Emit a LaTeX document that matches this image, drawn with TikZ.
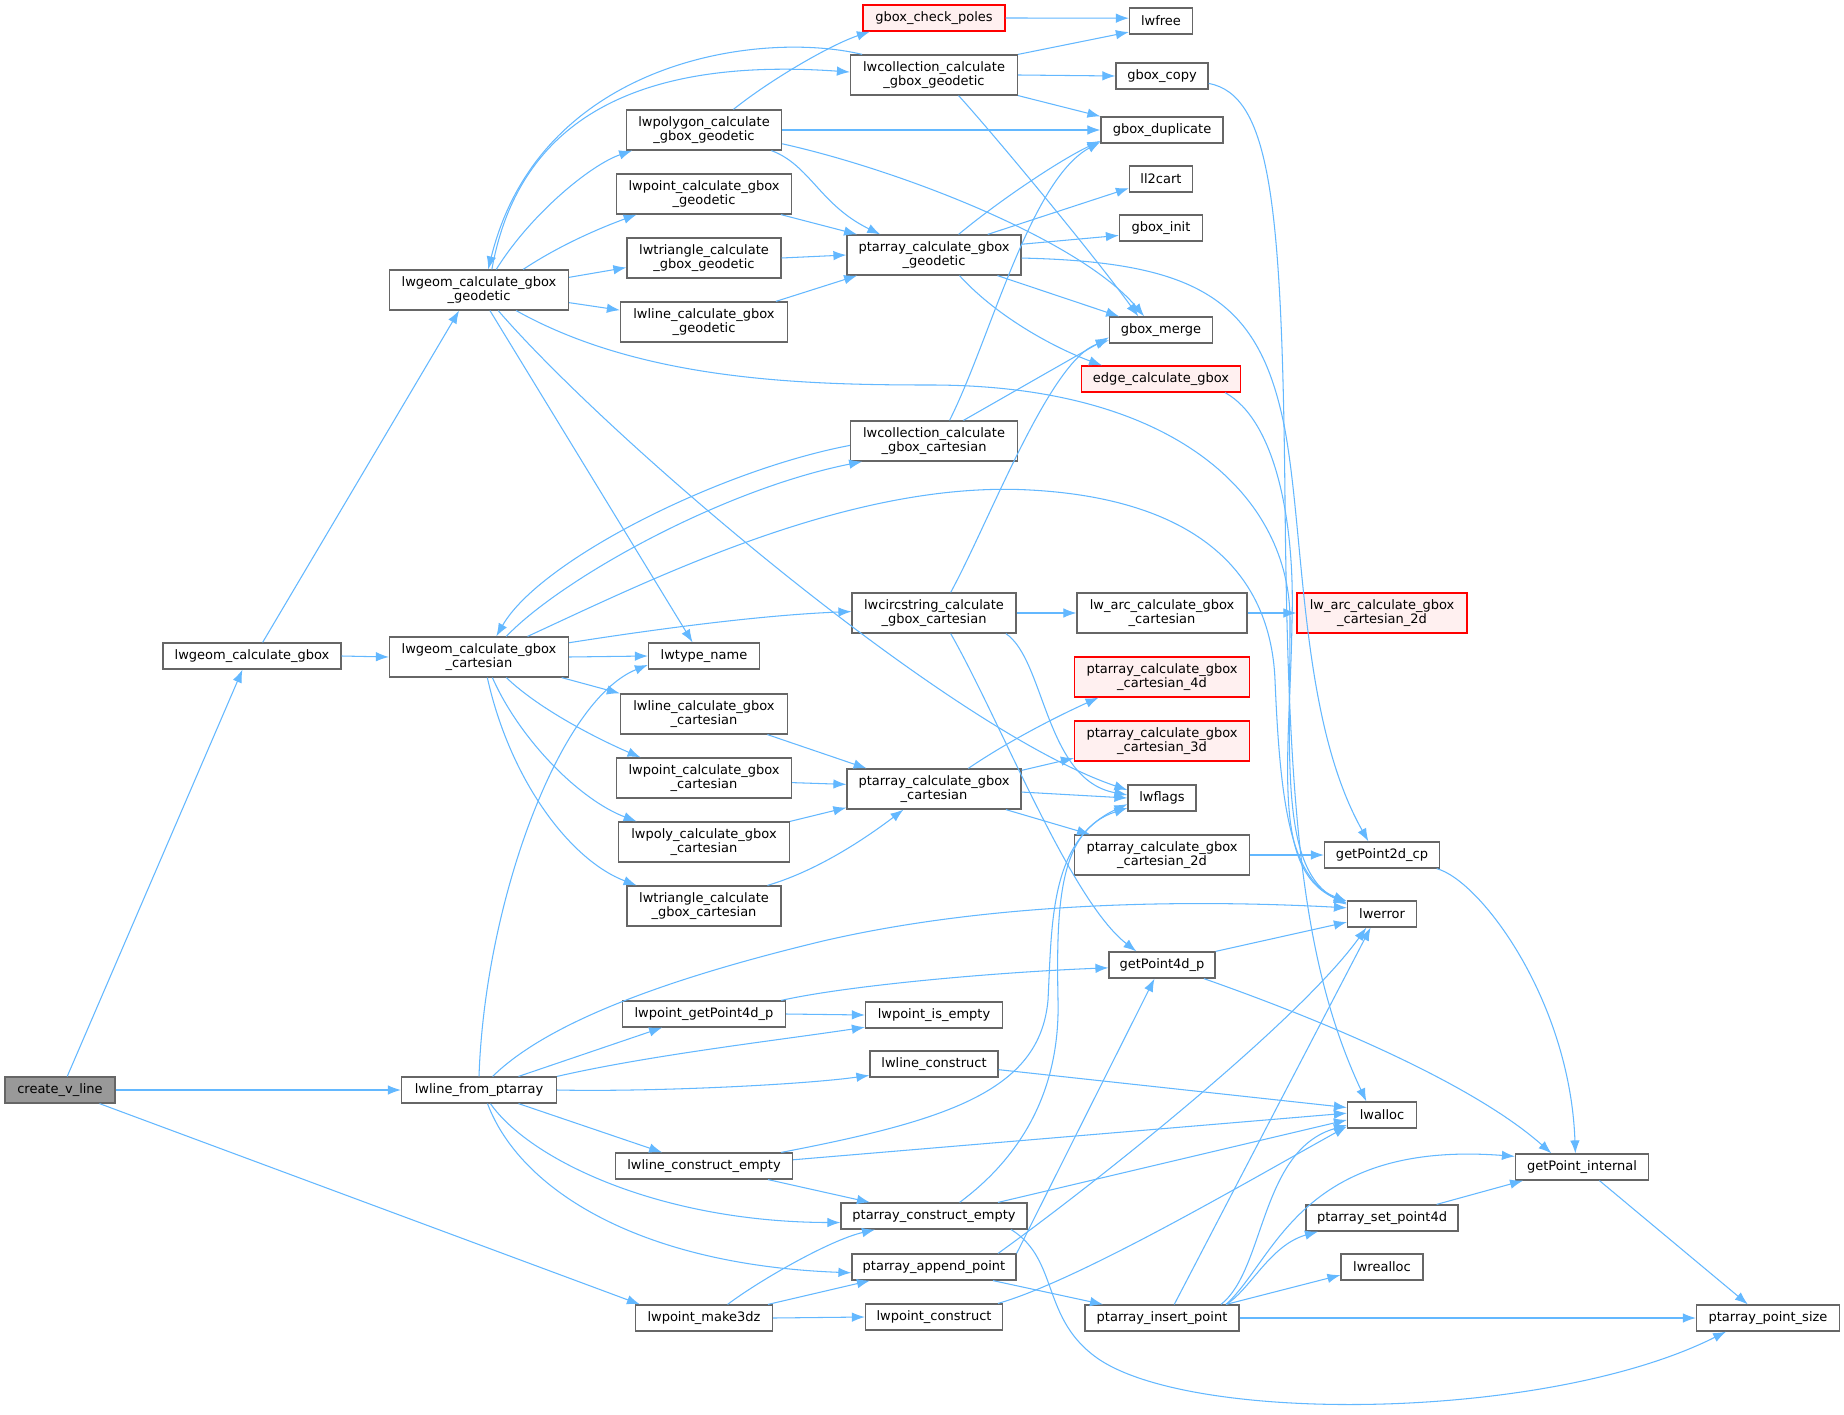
\documentclass[tikz,border=0pt]{standalone}
\usepackage{fontspec}
\setmainfont{DejaVu Sans}
\usepackage{xcolor}
\usetikzlibrary{arrows.meta}
\definecolor{edgeblue}{HTML}{63B8FF}
\definecolor{boxgray}{HTML}{666666}
\definecolor{rootfill}{HTML}{999999}
\definecolor{truncred}{HTML}{FF0000}
\definecolor{truncfill}{HTML}{FFF0F0}

\begin{document}
\begin{tikzpicture}[
    x=0.02cm, y=-0.02cm,
    fn/.style={
      draw=boxgray,
      fill=white,
      line width=0.7pt,
      inner sep=0pt,
      align=center,
      minimum height=0.52cm,
      font=\fontsize{7.4}{8.3}\selectfont
    },
    fn2/.style={fn, minimum height=0.8cm},
    bw/.style={minimum width=#1*0.02cm},
    caller/.style={fill=rootfill},
    trunc/.style={draw=truncred, fill=truncfill},
    call/.style={-{Latex[length=0.26cm,width=0.19cm]}, draw=edgeblue, line width=0.6pt}
  ]
  \path[use as bounding box, fill=white] (0,0) rectangle (1844,1415);

  \node[fn, caller, bw=110] (vline) at (60,1090) {create\_v\_line};
  \node[fn, bw=178] (gbox) at (252,656) {lwgeom\_calculate\_gbox};
  \node[fn2, bw=179] (geo) at (479,290) {lwgeom\_calculate\_gbox\\\_geodetic};
  \node[fn2, bw=179] (cart) at (479,657) {lwgeom\_calculate\_gbox\\\_cartesian};
  \node[fn, bw=155] (fromPta) at (479,1090) {lwline\_from\_ptarray};
  \node[fn, bw=137] (make3dz) at (704,1318) {lwpoint\_make3dz};

  \node[fn2, bw=155] (polyGeo) at (704,130) {lwpolygon\_calculate\\\_gbox\_geodetic};
  \node[fn2, bw=175] (pointGeo) at (704,194) {lwpoint\_calculate\_gbox\\\_geodetic};
  \node[fn2, bw=154] (triGeo) at (704,258) {lwtriangle\_calculate\\\_gbox\_geodetic};
  \node[fn2, bw=167] (lineGeo) at (704,322) {lwline\_calculate\_gbox\\\_geodetic};
  \node[fn, bw=111] (typeName) at (704,656) {lwtype\_name};
  \node[fn2, bw=167] (lineCart) at (704,714) {lwline\_calculate\_gbox\\\_cartesian};
  \node[fn2, bw=175] (pointCart) at (704,778) {lwpoint\_calculate\_gbox\\\_cartesian};
  \node[fn2, bw=171] (polyCart) at (704,842) {lwpoly\_calculate\_gbox\\\_cartesian};
  \node[fn2, bw=154] (triCart) at (704,906) {lwtriangle\_calculate\\\_gbox\_cartesian};
  \node[fn, bw=163] (ptGet4d) at (704,1014) {lwpoint\_getPoint4d\_p};
  \node[fn, bw=177] (lineEmpty) at (704,1166) {lwline\_construct\_empty};

  \node[fn, trunc, bw=142] (poles) at (934,18) {gbox\_check\_poles};
  \node[fn2, bw=167] (collGeo) at (934,75) {lwcollection\_calculate\\\_gbox\_geodetic};
  \node[fn2, bw=174] (ptaGeo) at (934,255) {ptarray\_calculate\_gbox\\\_geodetic};
  \node[fn2, bw=167] (collCart) at (934,441) {lwcollection\_calculate\\\_gbox\_cartesian};
  \node[fn2, bw=164] (circCart) at (934,613) {lwcircstring\_calculate\\\_gbox\_cartesian};
  \node[fn2, bw=174] (ptaCart) at (934,789) {ptarray\_calculate\_gbox\\\_cartesian};
  \node[fn, bw=137] (ptEmpty) at (934,1015) {lwpoint\_is\_empty};
  \node[fn, bw=128] (lineCons) at (934,1064) {lwline\_construct};
  \node[fn, bw=186] (ptaEmpty) at (934,1216) {ptarray\_construct\_empty};
  \node[fn, bw=164] (append) at (934,1267) {ptarray\_append\_point};
  \node[fn, bw=137] (ptCons) at (934,1317) {lwpoint\_construct};

  \node[fn, bw=63] (lwfree) at (1161,21) {lwfree};
  \node[fn, bw=92] (copy) at (1162,76) {gbox\_copy};
  \node[fn, bw=122] (dup) at (1162,130) {gbox\_duplicate};
  \node[fn, bw=63] (ll2cart) at (1161,179) {ll2cart};
  \node[fn, bw=83] (init) at (1161,228) {gbox\_init};
  \node[fn, bw=103] (merge) at (1161,330) {gbox\_merge};
  \node[fn, trunc, bw=159] (edgeBox) at (1161,379) {edge\_calculate\_gbox};
  \node[fn2, bw=170] (arcCart) at (1162,613) {lw\_arc\_calculate\_gbox\\\_cartesian};
  \node[fn2, trunc, bw=175] (cart4d) at (1162,677) {ptarray\_calculate\_gbox\\\_cartesian\_4d};
  \node[fn2, trunc, bw=175] (cart3d) at (1162,741) {ptarray\_calculate\_gbox\\\_cartesian\_3d};
  \node[fn, bw=68] (flags) at (1162,798) {lwflags};
  \node[fn2, bw=175] (cart2d) at (1162,855) {ptarray\_calculate\_gbox\\\_cartesian\_2d};
  \node[fn, bw=106] (get4d) at (1162,965) {getPoint4d\_p};
  \node[fn, bw=154] (insert) at (1162,1318) {ptarray\_insert\_point};

  \node[fn2, trunc, bw=170] (arc2d) at (1382,613) {lw\_arc\_calculate\_gbox\\\_cartesian\_2d};
  \node[fn, bw=115] (get2d) at (1382,855) {getPoint2d\_cp};
  \node[fn, bw=69] (lwerror) at (1382,914) {lwerror};
  \node[fn, bw=69] (lwalloc) at (1382,1115) {lwalloc};
  \node[fn, bw=152] (set4d) at (1382,1218) {ptarray\_set\_point4d};
  \node[fn, bw=82] (realloc) at (1382,1267) {lwrealloc};
  \node[fn, bw=133] (internal) at (1582,1167) {getPoint\_internal};
  \node[fn, bw=143] (ptSize) at (1768,1318) {ptarray\_point\_size};

  % create_v_line
  \draw[call] (vline.62) -- (gbox.235);
  \draw[call] (vline.east) -- (fromPta.west);
  \draw[call] (vline.-19) -- (make3dz.168);
  \draw[call] (gbox.52) -- (geo.226);
  \draw[call] (gbox.east) -- (cart.west);

  % geodetic branch
  \draw[call] (geo.58) .. controls (515,140) and (610,55) .. (collGeo.178);
  \draw[call] (collGeo.164) .. controls (760,30) and (540,60) .. (geo.66);
  \draw[call] (geo.50) .. controls (530,215) and (590,165) .. (polyGeo.196);
  \draw[call] (geo.25) .. controls (560,245) and (600,228) .. (pointGeo.197);
  \draw[call] (geo.8) -- (triGeo.187);
  \draw[call] (geo.-8) -- (lineGeo.172);
  \draw[call] (geo.298) -- (typeName.130);
  \draw[call] (geo.313) .. controls (610,440) and (950,730) .. (flags.167);
  \draw[call] (geo.331) .. controls (640,380) and (800,385) .. (930,385) .. controls (1180,385) and (1290,500) .. (1290,620) .. controls (1290,760) and (1280,870) .. (lwerror.165);

  \draw[call] (collGeo.north east) -- (lwfree.199);
  \draw[call] (poles.east) -- (lwfree.175);
  \draw[call] (collGeo.east) -- (copy.west);
  \draw[call] (collGeo.south east) -- (dup.north west);
  \draw[call] (collGeo.320) .. controls (990,130) and (1090,250) .. (merge.149);

  \draw[call] (polyGeo.35) .. controls (770,80) and (830,45) .. (poles.192);
  \draw[call] (polyGeo.east) -- (dup.west);
  \draw[call] (polyGeo.343) .. controls (810,165) and (820,205) .. (ptaGeo.159);
  \draw[call] (polyGeo.350) .. controls (900,170) and (1080,240) .. (merge.141);
  \draw[call] (pointGeo.345) -- (ptaGeo.165);
  \draw[call] (triGeo.east) -- (ptaGeo.west);
  \draw[call] (lineGeo.16) -- (ptaGeo.195);

  \draw[call] (ptaGeo.40) .. controls (1000,200) and (1060,160) .. (dup.190);
  \draw[call] (ptaGeo.21) -- (ll2cart.196);
  \draw[call] (ptaGeo.7) -- (init.190);
  \draw[call] (ptaGeo.342) -- (merge.162);
  \draw[call] (ptaGeo.321) .. controls (1000,320) and (1060,350) .. (edgeBox.167);
  \draw[call] (ptaGeo.-2) .. controls (1200,262) and (1260,300) .. (1285,430) .. controls (1305,540) and (1300,720) .. (get2d.135);
  \draw[call] (copy.351) .. controls (1270,95) and (1282,200) .. (1285,500) .. controls (1288,800) and (1300,960) .. (lwalloc.139);
  \draw[call] (edgeBox.348) .. controls (1275,420) and (1295,520) .. (1292,620) .. controls (1290,760) and (1270,870) .. (lwerror.163);

  % cartesian branch
  \draw[call] (collCart.183) .. controls (720,470) and (540,560) .. (cart.50);
  \draw[call] (cart.37) .. controls (560,580) and (720,490) .. (collCart.196);
  \draw[call] (cart.9) .. controls (650,630) and (760,615) .. (circCart.179);
  \draw[call] (cart.east) -- (typeName.west);
  \draw[call] (cart.346) -- (lineCart.north west);
  \draw[call] (cart.323) .. controls (540,710) and (600,740) .. (pointCart.162);
  \draw[call] (cart.303) .. controls (520,740) and (580,800) .. (polyCart.163);
  \draw[call] (cart.292) .. controls (510,780) and (570,860) .. (triCart.163);
  \draw[call] (cart.23) .. controls (650,580) and (850,480) .. (1030,490) .. controls (1180,498) and (1270,560) .. (1275,680) .. controls (1280,800) and (1290,880) .. (lwerror.160);

  \draw[call] (collCart.53) .. controls (990,340) and (1030,180) .. (dup.191);
  \draw[call] (collCart.35) -- (merge.188);
  \draw[call] (circCart.51) .. controls (990,520) and (1050,360) .. (merge.191);
  \draw[call] (circCart.east) -- (arcCart.west);
  \draw[call] (circCart.344) .. controls (1045,660) and (1045,780) .. (flags.175);
  \draw[call] (circCart.309) .. controls (1000,720) and (1070,900) .. (get4d.152);
  \draw[call] (arcCart.east) -- (arc2d.west);

  \draw[call] (lineCart.342) -- (ptaCart.163);
  \draw[call] (pointCart.-3) -- (ptaCart.177);
  \draw[call] (polyCart.north east) -- (ptaCart.192);
  \draw[call] (triCart.18) .. controls (820,870) and (870,835) .. (ptaCart.214);
  \draw[call] (ptaCart.31) .. controls (1010,740) and (1060,715) .. (cart4d.198);
  \draw[call] (ptaCart.12) -- (cart3d.191);
  \draw[call] (ptaCart.-2) -- (flags.west);
  \draw[call] (ptaCart.344) -- (cart2d.164);
  \draw[call] (cart2d.east) -- (get2d.west);
  \draw[call] (get2d.346) .. controls (1480,880) and (1570,1000) .. (internal.116);

  % lwline_from_ptarray branch
  \draw[call] (fromPta.north) .. controls (485,900) and (560,700) .. (typeName.189);
  \draw[call] (fromPta.45) .. controls (540,1030) and (640,985) .. (823,941) .. controls (1000,900) and (1200,900) .. (lwerror.170);
  \draw[call] (fromPta.19) -- (ptGet4d.198);
  \draw[call] (fromPta.north east) .. controls (650,1055) and (780,1040) .. (ptEmpty.190);
  \draw[call] (fromPta.east) .. controls (650,1092) and (800,1085) .. (lineCons.190);
  \draw[call] (fromPta.341) -- (lineEmpty.162);
  \draw[call] (fromPta.310) .. controls (530,1160) and (660,1222) .. (ptaEmpty.184);
  \draw[call] (fromPta.302) .. controls (520,1190) and (640,1265) .. (append.184);

  \draw[call] (ptGet4d.10) .. controls (850,985) and (1000,972) .. (get4d.183);
  \draw[call] (ptGet4d.east) -- (ptEmpty.west);
  \draw[call] (lineCons.-5) -- (lwalloc.168);
  \draw[call] (lineEmpty.10) .. controls (950,1120) and (1040,1090) .. (1048,1000) .. controls (1052,920) and (1050,840) .. (flags.190);
  \draw[call] (lineEmpty.4) -- (lwalloc.177);
  \draw[call] (lineEmpty.348) -- (ptaEmpty.168);
  \draw[call] (ptaEmpty.28) .. controls (1030,1150) and (1060,1080) .. (1058,1000) .. controls (1056,900) and (1060,830) .. (flags.196);
  \draw[call] (ptaEmpty.12) -- (lwalloc.188);
  \draw[call] (ptaEmpty.350) .. controls (1060,1260) and (1040,1320) .. (1100,1360) .. controls (1200,1425) and (1550,1420) .. (ptSize.198);

  \draw[call] (append.north east) -- (get4d.241);
  \draw[call] (append.12) .. controls (1100,1180) and (1300,1020) .. (lwerror.221);
  \draw[call] (append.347) -- (insert.167);
  \draw[call] (make3dz.30) .. controls (760,1280) and (830,1240) .. (ptaEmpty.193);
  \draw[call] (make3dz.12) -- (append.192);
  \draw[call] (make3dz.east) -- (ptCons.west);
  \draw[call] (ptCons.12) .. controls (1080,1280) and (1250,1180) .. (lwalloc.198);

  \draw[call] (insert.48) -- (lwerror.230);
  \draw[call] (insert.13) .. controls (1265,1270) and (1260,1150) .. (lwalloc.196);
  \draw[call] (insert.12) .. controls (1275,1260) and (1300,1140) .. (internal.171);
  \draw[call] (insert.12) .. controls (1250,1290) and (1270,1245) .. (set4d.192);
  \draw[call] (insert.12) -- (realloc.191);
  \draw[call] (insert.east) -- (ptSize.west);
  \draw[call] (set4d.14) -- (internal.193);
  \draw[call] (internal.322) -- (ptSize.146);
  \draw[call] (get4d.north east) -- (lwerror.193);
  \draw[call] (get4d.342) .. controls (1350,1030) and (1480,1090) .. (internal.156);
\end{tikzpicture}
\end{document}
